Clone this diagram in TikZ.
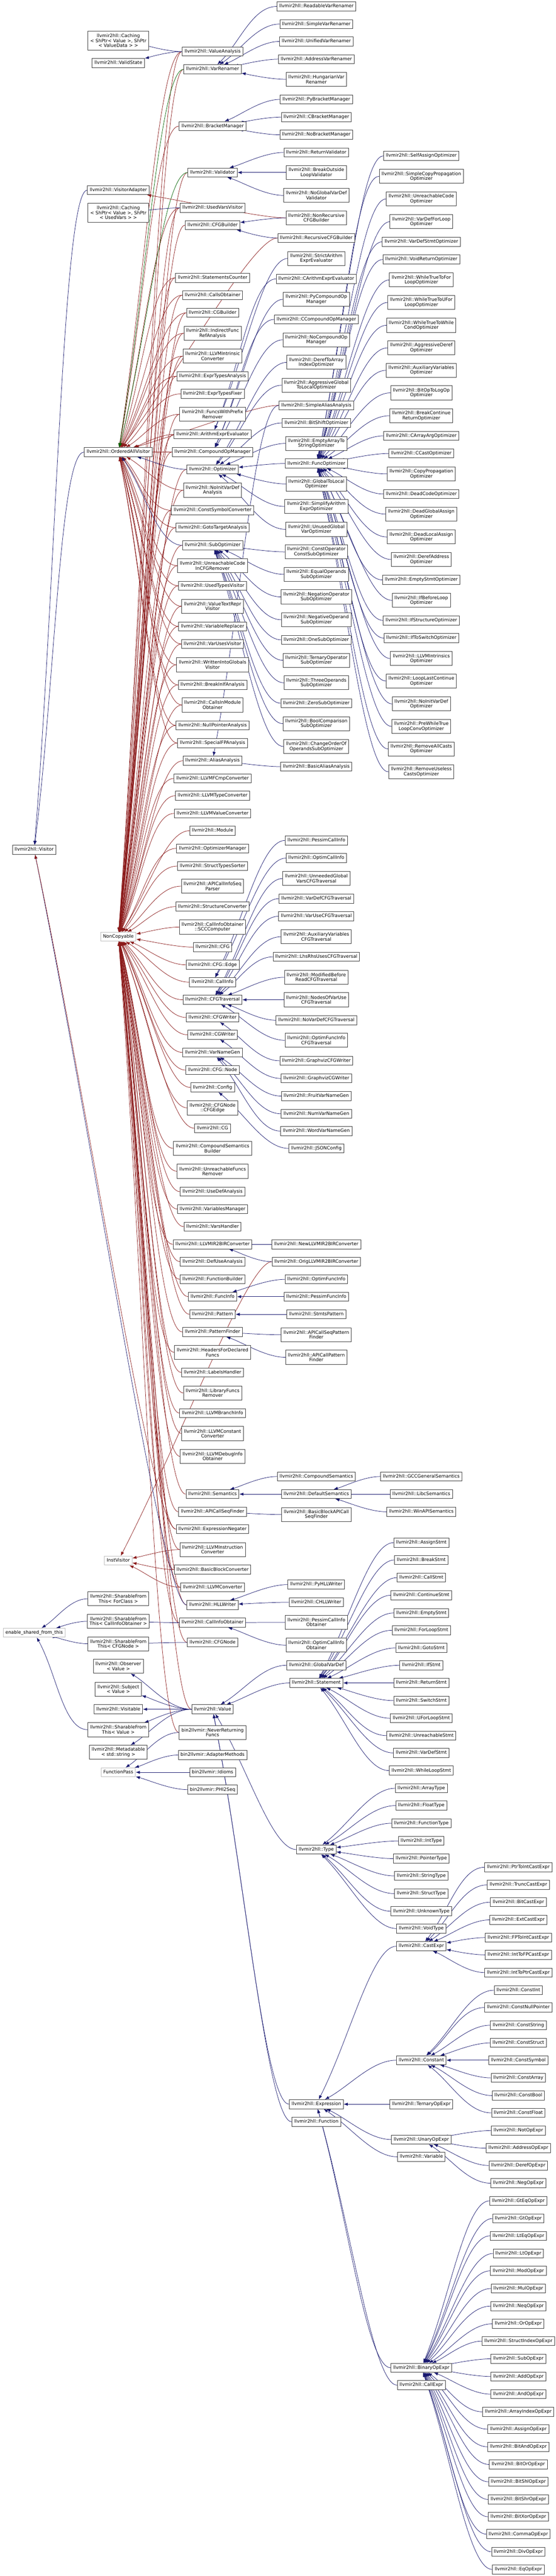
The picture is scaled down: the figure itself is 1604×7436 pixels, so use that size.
\documentclass[tikz,border=0pt]{standalone}
\usepackage{fontspec}
\setmainfont{DejaVu Sans}
\usetikzlibrary{arrows.meta,calc}
\definecolor{dblue}{HTML}{191970}
\definecolor{dred}{HTML}{8B1A1A}
\definecolor{dgreen}{HTML}{006400}
\definecolor{gbox}{HTML}{BFBFBF}
\definecolor{bbox}{HTML}{404040}
\pgfdeclarelayer{bg}
\pgfsetlayers{bg,main}
\newcommand\nodefont{\fontsize{13.3}{14}\selectfont}
\tikzset{
 cbox/.style={draw=bbox, line width=1.4pt, fill=white, font=\nodefont, inner xsep=6.5pt, inner ysep=0pt},
 c1/.style={cbox, minimum height=26pt, text height=10pt, text depth=3pt},
 c2/.style={cbox, align=center, minimum height=40.5pt},
 c3/.style={cbox, align=center, minimum height=55pt},
 ext/.style={c1, draw=gbox},
 pub/.style={draw=dblue, line width=1.1pt, -{Latex[length=12pt,width=9pt]}},
 priv/.style={pub, draw=dred},
 prot/.style={pub, draw=dgreen},
}
\newcommand\cone[3]{\node[c1] (#3) at (#1,#2) {llvmir2hll::#3};}
\newcommand\ctwo[5]{\node[c2] (#3) at (#1,#2) {llvmir2hll::#4\\#5};}
\newcommand\mkedge[3]{\draw[#1] let \p1=($(#2.west)-(#3)$), \n1={min(70pt,0.2*(abs(\x1)+abs(\y1)))} in (#2.west) .. controls +({0pt-\n1},0pt) and ($(#3)!0.42!(#2.west)$) .. (#3);}
\begin{document}
\begin{tikzpicture}[x=1pt,y=-1pt]
\useasboundingbox (0,0) rectangle (1604,7436);
% ---------- column 1 ----------
\node[c1] (Visitor) at (98.5,2453) {llvmir2hll::Visitor};
\node[ext] (ESFT) at (98.5,4713) {enable\_shared\_from\_this};
% ---------- column 2 ----------
\node[c3] (CachingVD) at (341.5,117) {llvmir2hll::Caching\\< ShPtr< Value >, ShPtr\\< ValueData > >};
\cone{341.5}{182}{ValidState}
\cone{341.5}{549}{VisitorAdapter}
\node[c3] (CachingUV) at (341.5,614) {llvmir2hll::Caching\\< ShPtr< Value >, ShPtr\\< UsedVars > >};
\node[c1] (OAV) at (341.5,1305) {llvmir2hll::OrderedAllVisitor};
\node[ext] (NonCopyable) at (341.5,2704) {NonCopyable};
\node[ext] (InstVisitor) at (341.5,4505) {InstVisitor};
\node[c2] (SFTForClass) at (341.5,4615) {llvmir2hll::SharableFrom\\This< ForClass >};
\node[c2] (SFTCIO) at (341.5,4680) {llvmir2hll::SharableFrom\\This< CallInfoObtainer >};
\node[c2] (SFTCFGNode) at (341.5,4745) {llvmir2hll::SharableFrom\\This< CFGNode >};
\node[c2] (Observer) at (341.5,4810) {llvmir2hll::Observer\\< Value >};
\node[c2] (Subject) at (341.5,4876) {llvmir2hll::Subject\\< Value >};
\cone{341.5}{4934}{Visitable}
\node[c2] (SFTValue) at (341.5,4993) {llvmir2hll::SharableFrom\\This< Value >};
\node[c2] (Metadatable) at (341.5,5058) {llvmir2hll::Metadatable\\< std::string >};
\node[ext] (FunctionPass) at (341.5,5116) {FunctionPass};
% ---------- column 3 ----------
\cone{613.5}{149}{ValueAnalysis}
\cone{613.5}{200}{VarRenamer}
\cone{613.5}{364}{BracketManager}
\cone{613.5}{498}{Validator}
\cone{613.5}{600}{UsedVarsVisitor}
\cone{613.5}{650}{CFGBuilder}
\cone{613.5}{802}{StatementsCounter}
\cone{613.5}{852}{CallsObtainer}
\cone{613.5}{903}{CGBuilder}
\ctwo{613.5}{962}{IndirectFuncRefAnalysis}{IndirectFunc}{RefAnalysis}
\ctwo{613.5}{1028}{LLVMIntrinsicConverter}{LLVMIntrinsic}{Converter}
\cone{613.5}{1086}{ExprTypesAnalysis}
\cone{613.5}{1137}{ExprTypesFixer}
\ctwo{613.5}{1196}{FuncsWithPrefixRemover}{FuncsWithPrefix}{Remover}
\cone{613.5}{1254}{ArithmExprEvaluator}
\cone{613.5}{1305}{CompoundOpManager}
\cone{613.5}{1355}{Optimizer}
\ctwo{613.5}{1415}{NoInitVarDefAnalysis}{NoInitVarDef}{Analysis}
\cone{613.5}{1473}{ConstSymbolConverter}
\cone{613.5}{1523}{GotoTargetAnalysis}
\cone{613.5}{1574}{SubOptimizer}
\ctwo{613.5}{1633}{UnreachableCodeInCFGRemover}{UnreachableCode}{InCFGRemover}
\cone{613.5}{1691}{UsedTypesVisitor}
\ctwo{613.5}{1750}{ValueTextReprVisitor}{ValueTextRepr}{Visitor}
\cone{613.5}{1808}{VariableReplacer}
\cone{613.5}{1859}{VarUsesVisitor}
\ctwo{613.5}{1919}{WrittenIntoGlobalsVisitor}{WrittenIntoGlobals}{Visitor}
\cone{613.5}{1977}{BreakInIfAnalysis}
\ctwo{613.5}{2035}{CallsInModuleObtainer}{CallsInModule}{Obtainer}
\cone{613.5}{2094}{NullPointerAnalysis}
\cone{613.5}{2145}{SpecialFPAnalysis}
\cone{613.5}{2196}{AliasAnalysis}
\cone{613.5}{2247}{LLVMFCmpConverter}
\cone{613.5}{2297}{LLVMTypeConverter}
\cone{613.5}{2348}{LLVMValueConverter}
\cone{613.5}{2398}{Module}
\cone{613.5}{2449}{OptimizerManager}
\cone{613.5}{2500}{StructTypesSorter}
\ctwo{613.5}{2558}{APICallInfoSeqParser}{APICallInfoSeq}{Parser}
\cone{613.5}{2617}{StructureConverter}
\node[c2] (SCCComputer) at (613.5,2676) {llvmir2hll::CallInfoObtainer\\::SCCComputer};
\cone{613.5}{2734}{CFG}
\node[c1] (CFGEdge) at (613.5,2785) {llvmir2hll::CFG::Edge};
\cone{613.5}{2835}{CallInfo}
\cone{613.5}{2886}{CFGTraversal}
\cone{613.5}{2937}{CFGWriter}
\cone{613.5}{2987}{CGWriter}
\cone{613.5}{3038}{VarNameGen}
\node[c1] (CFGNodeT) at (613.5,3089) {llvmir2hll::CFG::Node};
\cone{613.5}{3139}{Config}
\node[c2] (CFGNodeCFGEdge) at (613.5,3198) {llvmir2hll::CFGNode\\::CFGEdge};
\cone{613.5}{3257}{CG}
\ctwo{613.5}{3315}{CompoundSemanticsBuilder}{CompoundSemantics}{Builder}
\ctwo{613.5}{3381}{UnreachableFuncsRemover}{UnreachableFuncs}{Remover}
\cone{613.5}{3440}{UseDefAnalysis}
\cone{613.5}{3490}{VariablesManager}
\cone{613.5}{3541}{VarsHandler}
\cone{613.5}{3592}{LLVMIR2BIRConverter}
\cone{613.5}{3642}{DefUseAnalysis}
\cone{613.5}{3693}{FunctionBuilder}
\cone{613.5}{3743}{FuncInfo}
\cone{613.5}{3794}{Pattern}
\cone{613.5}{3845}{PatternFinder}
\ctwo{613.5}{3904}{HeadersForDeclaredFuncs}{HeadersForDeclared}{Funcs}
\cone{613.5}{3962}{LabelsHandler}
\ctwo{613.5}{4021}{LibraryFuncsRemover}{LibraryFuncs}{Remover}
\cone{613.5}{4079}{LLVMBranchInfo}
\ctwo{613.5}{4138}{LLVMConstantConverter}{LLVMConstant}{Converter}
\ctwo{613.5}{4204}{LLVMDebugInfoObtainer}{LLVMDebugInfo}{Obtainer}
\cone{613.5}{4313}{Semantics}
\cone{613.5}{4364}{APICallSeqFinder}
\cone{613.5}{4414}{ExpressionNegater}
\ctwo{613.5}{4473}{LLVMInstructionConverter}{LLVMInstruction}{Converter}
\cone{613.5}{4531}{BasicBlockConverter}
\cone{613.5}{4582}{LLVMConverter}
\cone{613.5}{4633}{HLLWriter}
\cone{613.5}{4684}{CallInfoObtainer}
\cone{613.5}{4741}{CFGNode}
\cone{613.5}{4934}{Value}
\node[c2] (NeverReturningFuncs) at (613.5,5001) {bin2llvmir::NeverReturning\\Funcs};
\node[c1] (AdapterMethods) at (613.5,5066) {bin2llvmir::AdapterMethods};
\node[c1] (Idioms) at (613.5,5116) {bin2llvmir::Idioms};
\node[c1] (PHI2Seq) at (613.5,5166) {bin2llvmir::PHI2Seq};
% ---------- column 4 ----------
\cone{913}{18.6}{ReadableVarRenamer}
\cone{913}{69.5}{SimpleVarRenamer}
\cone{913}{119.7}{UnifiedVarRenamer}
\cone{913}{170.8}{AddressVarRenamer}
\ctwo{913}{229}{HungarianVarRenamer}{HungarianVar}{Renamer}
\cone{913}{287}{PyBracketManager}
\cone{913}{338}{CBracketManager}
\cone{913}{389}{NoBracketManager}
\cone{913}{440}{ReturnValidator}
\ctwo{913}{498}{BreakOutsideLoopValidator}{BreakOutside}{LoopValidator}
\ctwo{913}{564}{NoGlobalVarDefValidator}{NoGlobalVarDef}{Validator}
\ctwo{913}{629}{NonRecursiveCFGBuilder}{NonRecursive}{CFGBuilder}
\cone{913}{687}{RecursiveCFGBuilder}
\ctwo{913}{746}{StrictArithmExprEvaluator}{StrictArithm}{ExprEvaluator}
\cone{913}{805}{CArithmExprEvaluator}
\ctwo{913}{864}{PyCompoundOpManager}{PyCompoundOp}{Manager}
\cone{913}{922}{CCompoundOpManager}
\ctwo{913}{981}{NoCompoundOpManager}{NoCompoundOp}{Manager}
\ctwo{913}{1046}{DerefToArrayIndexOptimizer}{DerefToArray}{IndexOptimizer}
\ctwo{913}{1112}{AggressiveGlobalToLocalOptimizer}{AggressiveGlobal}{ToLocalOptimizer}
\cone{913}{1170}{SimpleAliasAnalysis}
\cone{913}{1221}{BitShiftOptimizer}
\ctwo{913}{1280}{EmptyArrayToStringOptimizer}{EmptyArrayTo}{StringOptimizer}
\cone{913}{1338}{FuncOptimizer}
\ctwo{913}{1397}{GlobalToLocalOptimizer}{GlobalToLocal}{Optimizer}
\ctwo{913}{1462}{SimplifyArithmExprOptimizer}{SimplifyArithm}{ExprOptimizer}
\ctwo{913}{1528}{UnusedGlobalVarOptimizer}{UnusedGlobal}{VarOptimizer}
\ctwo{913}{1593}{ConstOperatorConstSubOptimizer}{ConstOperator}{ConstSubOptimizer}
\ctwo{913}{1658}{EqualOperandsSubOptimizer}{EqualOperands}{SubOptimizer}
\ctwo{913}{1723}{NegationOperatorSubOptimizer}{NegationOperator}{SubOptimizer}
\ctwo{913}{1789}{NegativeOperandSubOptimizer}{NegativeOperand}{SubOptimizer}
\cone{913}{1847}{OneSubOptimizer}
\ctwo{913}{1906}{TernaryOperatorSubOptimizer}{TernaryOperator}{SubOptimizer}
\ctwo{913}{1971}{ThreeOperandsSubOptimizer}{ThreeOperands}{SubOptimizer}
\cone{913}{2030}{ZeroSubOptimizer}
\ctwo{913}{2089}{BoolComparisonSubOptimizer}{BoolComparison}{SubOptimizer}
\ctwo{913}{2155}{ChangeOrderOfOperandsSubOptimizer}{ChangeOrderOf}{OperandsSubOptimizer}
\cone{913}{2213}{BasicAliasAnalysis}
\cone{913}{2426}{PessimCallInfo}
\cone{913}{2477}{OptimCallInfo}
\ctwo{913}{2536}{UnneededGlobalVarsCFGTraversal}{UnneededGlobal}{VarsCFGTraversal}
\cone{913}{2594}{VarDefCFGTraversal}
\cone{913}{2645}{VarUseCFGTraversal}
\ctwo{913}{2704}{AuxiliaryVariablesCFGTraversal}{AuxiliaryVariables}{CFGTraversal}
\cone{913}{2762}{LhsRhsUsesCFGTraversal}
\ctwo{913}{2821}{ModifiedBeforeReadCFGTraversal}{ModifiedBefore}{ReadCFGTraversal}
\ctwo{913}{2886}{NodesOfVarUseCFGTraversal}{NodesOfVarUse}{CFGTraversal}
\cone{913}{2945}{NoVarDefCFGTraversal}
\ctwo{913}{3003}{OptimFuncInfoCFGTraversal}{OptimFuncInfo}{CFGTraversal}
\cone{913}{3062}{GraphvizCFGWriter}
\cone{913}{3113}{GraphvizCGWriter}
\cone{913}{3164}{FruitVarNameGen}
\cone{913}{3215}{NumVarNameGen}
\cone{913}{3265}{WordVarNameGen}
\cone{913}{3315}{JSONConfig}
\cone{913}{3592}{NewLLVMIR2BIRConverter}
\cone{913}{3642}{OrigLLVMIR2BIRConverter}
\cone{913}{3693}{OptimFuncInfo}
\cone{913}{3743}{PessimFuncInfo}
\cone{913}{3794}{StmtsPattern}
\ctwo{913}{3853}{APICallSeqPatternFinder}{APICallSeqPattern}{Finder}
\ctwo{913}{3918}{APICallPatternFinder}{APICallPattern}{Finder}
\cone{913}{4262}{CompoundSemantics}
\cone{913}{4313}{DefaultSemantics}
\ctwo{913}{4372}{BasicBlockAPICallSeqFinder}{BasicBlockAPICall}{SeqFinder}
\cone{913}{4574}{PyHLLWriter}
\cone{913}{4625}{CHLLWriter}
\ctwo{913}{4683}{PessimCallInfoObtainer}{PessimCallInfo}{Obtainer}
\ctwo{913}{4749}{OptimCallInfoObtainer}{OptimCallInfo}{Obtainer}
\cone{913}{4807}{GlobalVarDef}
\cone{913}{4858}{Statement}
\cone{913}{5339}{Type}
\cone{913}{6074}{Expression}
\cone{913}{6125}{Function}
% ---------- column 5 ----------
\cone{1216}{450}{SelfAssignOptimizer}
\ctwo{1216}{509}{SimpleCopyPropagationOptimizer}{SimpleCopyPropagation}{Optimizer}
\ctwo{1216}{574}{UnreachableCodeOptimizer}{UnreachableCode}{Optimizer}
\ctwo{1216}{640}{VarDefForLoopOptimizer}{VarDefForLoop}{Optimizer}
\cone{1216}{698}{VarDefStmtOptimizer}
\cone{1216}{749}{VoidReturnOptimizer}
\ctwo{1216}{808}{WhileTrueToForLoopOptimizer}{WhileTrueToFor}{LoopOptimizer}
\ctwo{1216}{873}{WhileTrueToUForLoopOptimizer}{WhileTrueToUFor}{LoopOptimizer}
\ctwo{1216}{939}{WhileTrueToWhileCondOptimizer}{WhileTrueToWhile}{CondOptimizer}
\ctwo{1216}{1004}{AggressiveDerefOptimizer}{AggressiveDeref}{Optimizer}
\ctwo{1216}{1069}{AuxiliaryVariablesOptimizer}{AuxiliaryVariables}{Optimizer}
\ctwo{1216}{1134}{BitOpToLogOpOptimizer}{BitOpToLogOp}{Optimizer}
\ctwo{1216}{1200}{BreakContinueReturnOptimizer}{BreakContinue}{ReturnOptimizer}
\cone{1216}{1258}{CArrayArgOptimizer}
\cone{1216}{1309}{CCastOptimizer}
\ctwo{1216}{1368}{CopyPropagationOptimizer}{CopyPropagation}{Optimizer}
\cone{1216}{1426}{DeadCodeOptimizer}
\ctwo{1216}{1484}{DeadGlobalAssignOptimizer}{DeadGlobalAssign}{Optimizer}
\ctwo{1216}{1550}{DeadLocalAssignOptimizer}{DeadLocalAssign}{Optimizer}
\ctwo{1216}{1615}{DerefAddressOptimizer}{DerefAddress}{Optimizer}
\cone{1216}{1674}{EmptyStmtOptimizer}
\ctwo{1216}{1733}{IfBeforeLoopOptimizer}{IfBeforeLoop}{Optimizer}
\cone{1216}{1791}{IfStructureOptimizer}
\cone{1216}{1842}{IfToSwitchOptimizer}
\ctwo{1216}{1901}{LLVMIntrinsicsOptimizer}{LLVMIntrinsics}{Optimizer}
\ctwo{1216}{1966}{LoopLastContinueOptimizer}{LoopLastContinue}{Optimizer}
\ctwo{1216}{2032}{NoInitVarDefOptimizer}{NoInitVarDef}{Optimizer}
\ctwo{1216}{2097}{PreWhileTrueLoopConvOptimizer}{PreWhileTrue}{LoopConvOptimizer}
\ctwo{1216}{2162}{RemoveAllCastsOptimizer}{RemoveAllCasts}{Optimizer}
\ctwo{1216}{2228}{RemoveUselessCastsOptimizer}{RemoveUseless}{CastsOptimizer}
\cone{1216}{4262}{GCCGeneralSemantics}
\cone{1216}{4313}{LibcSemantics}
\cone{1216}{4364}{WinAPISemantics}
\cone{1216}{4453}{AssignStmt}
\cone{1216}{4503}{BreakStmt}
\cone{1216}{4554}{CallStmt}
\cone{1216}{4605}{ContinueStmt}
\cone{1216}{4656}{EmptyStmt}
\cone{1216}{4706}{ForLoopStmt}
\cone{1216}{4757}{GotoStmt}
\cone{1216}{4807}{IfStmt}
\cone{1216}{4858}{ReturnStmt}
\cone{1216}{4909}{SwitchStmt}
\cone{1216}{4960}{UForLoopStmt}
\cone{1216}{5010}{UnreachableStmt}
\cone{1216}{5060}{VarDefStmt}
\cone{1216}{5111}{WhileLoopStmt}
\cone{1216}{5162}{ArrayType}
\cone{1216}{5212}{FloatType}
\cone{1216}{5263}{FunctionType}
\cone{1216}{5314}{IntType}
\cone{1216}{5365}{PointerType}
\cone{1216}{5415}{StringType}
\cone{1216}{5466}{StructType}
\cone{1216}{5517}{UnknownType}
\cone{1216}{5567}{VoidType}
\cone{1216}{5618}{CastExpr}
\cone{1216}{5947}{Constant}
\cone{1216}{6074}{TernaryOpExpr}
\cone{1216}{6176}{UnaryOpExpr}
\cone{1216}{6226}{Variable}
\cone{1216}{6835}{BinaryOpExpr}
\cone{1216}{6885}{CallExpr}
% ---------- column 6 ----------
\cone{1496}{5390}{PtrToIntCastExpr}
\cone{1496}{5441}{TruncCastExpr}
\cone{1496}{5491}{BitCastExpr}
\cone{1496}{5542}{ExtCastExpr}
\cone{1496}{5593}{FPToIntCastExpr}
\cone{1496}{5643}{IntToFPCastExpr}
\cone{1496}{5694}{IntToPtrCastExpr}
\cone{1496}{5745}{ConstInt}
\cone{1496}{5795}{ConstNullPointer}
\cone{1496}{5846}{ConstString}
\cone{1496}{5897}{ConstStruct}
\cone{1496}{5947}{ConstSymbol}
\cone{1496}{5998}{ConstArray}
\cone{1496}{6049}{ConstBool}
\cone{1496}{6099}{ConstFloat}
\cone{1496}{6150}{NotOpExpr}
\cone{1496}{6201}{AddressOpExpr}
\cone{1496}{6251}{DerefOpExpr}
\cone{1496}{6302}{NegOpExpr}
\cone{1496}{6353}{GtEqOpExpr}
\cone{1496}{6404}{GtOpExpr}
\cone{1496}{6454}{LtEqOpExpr}
\cone{1496}{6505}{LtOpExpr}
\cone{1496}{6555}{ModOpExpr}
\cone{1496}{6606}{MulOpExpr}
\cone{1496}{6657}{NeqOpExpr}
\cone{1496}{6708}{OrOpExpr}
\cone{1496}{6758}{StructIndexOpExpr}
\cone{1496}{6809}{SubOpExpr}
\cone{1496}{6860}{AddOpExpr}
\cone{1496}{6911}{AndOpExpr}
\cone{1496}{6962}{ArrayIndexOpExpr}
\cone{1496}{7012}{AssignOpExpr}
\cone{1496}{7063}{BitAndOpExpr}
\cone{1496}{7114}{BitOrOpExpr}
\cone{1496}{7164}{BitShlOpExpr}
\cone{1496}{7215}{BitShrOpExpr}
\cone{1496}{7265}{BitXorOpExpr}
\cone{1496}{7315}{CommaOpExpr}
\cone{1496}{7366}{DivOpExpr}
\cone{1496}{7417}{EqOpExpr}
% ---------- connectors ----------
\begin{pgfonlayer}{bg}
\fill[white] (0,0) rectangle (1604,7436);
\foreach \c in {ValueAnalysis,VarRenamer,Validator,UsedVarsVisitor,CFGBuilder,StatementsCounter,CallsObtainer,CGBuilder,IndirectFuncRefAnalysis,LLVMIntrinsicConverter,ExprTypesAnalysis,FuncsWithPrefixRemover,ArithmExprEvaluator,CompoundOpManager,Optimizer,NoInitVarDefAnalysis,ConstSymbolConverter,GotoTargetAnalysis,SubOptimizer,UnreachableCodeInCFGRemover,UsedTypesVisitor,ValueTextReprVisitor,VariableReplacer,VarUsesVisitor,WrittenIntoGlobalsVisitor,BreakInIfAnalysis,CallsInModuleObtainer,NullPointerAnalysis,SpecialFPAnalysis,AliasAnalysis,LLVMFCmpConverter,LLVMTypeConverter,LLVMValueConverter,Module,OptimizerManager,StructTypesSorter,APICallInfoSeqParser,StructureConverter,SCCComputer,CFG,CFGEdge,CallInfo,CFGTraversal,CFGWriter,CGWriter,VarNameGen,CFGNodeT,Config,CFGNodeCFGEdge,CG,CompoundSemanticsBuilder,UnreachableFuncsRemover,UseDefAnalysis,VariablesManager,VarsHandler,LLVMIR2BIRConverter,DefUseAnalysis,FunctionBuilder,FuncInfo,Pattern,PatternFinder,HeadersForDeclaredFuncs,LabelsHandler,LibraryFuncsRemover,LLVMBranchInfo,LLVMConstantConverter,LLVMDebugInfoObtainer,Semantics,APICallSeqFinder,ExpressionNegater,LLVMInstructionConverter,BasicBlockConverter,LLVMConverter,HLLWriter,CallInfoObtainer,CFGNode,Value,NeverReturningFuncs}{\mkedge{priv}{\c}{NonCopyable}}
\foreach \c in {ValueAnalysis,BracketManager,UsedVarsVisitor,RecursiveCFGBuilder,StatementsCounter,CallsObtainer,CGBuilder,IndirectFuncRefAnalysis,LLVMIntrinsicConverter,ExprTypesAnalysis,ExprTypesFixer,FuncsWithPrefixRemover,ArithmExprEvaluator,CompoundOpManager,NoInitVarDefAnalysis,ConstSymbolConverter,GotoTargetAnalysis,UnreachableCodeInCFGRemover,UsedTypesVisitor,ValueTextReprVisitor,VariableReplacer,VarUsesVisitor,WrittenIntoGlobalsVisitor,BreakInIfAnalysis,CallsInModuleObtainer,NullPointerAnalysis,SpecialFPAnalysis,SimpleAliasAnalysis}{\mkedge{priv}{\c}{OAV}}
\foreach \c in {VarRenamer,Validator}{\mkedge{prot}{\c}{OAV}}
\foreach \c in {Optimizer,SubOptimizer}{\mkedge{pub}{\c}{OAV}}
\foreach \c in {LLVMInstructionConverter,BasicBlockConverter,LLVMConverter,OrigLLVMIR2BIRConverter}{\mkedge{priv}{\c}{InstVisitor}}
\foreach \c in {VisitorAdapter,OAV,HLLWriter}{\mkedge{pub}{\c}{Visitor}}
\mkedge{priv}{ExpressionNegater}{Visitor}
\mkedge{priv}{NonRecursiveCFGBuilder}{VisitorAdapter}
\mkedge{pub}{ValueAnalysis}{CachingVD}
\mkedge{pub}{ValueAnalysis}{ValidState}
\mkedge{pub}{UsedVarsVisitor}{CachingUV}
\foreach \c in {ReadableVarRenamer,SimpleVarRenamer,UnifiedVarRenamer,AddressVarRenamer,HungarianVarRenamer}{\mkedge{pub}{\c}{VarRenamer}}
\foreach \c in {PyBracketManager,CBracketManager,NoBracketManager}{\mkedge{pub}{\c}{BracketManager}}
\foreach \c in {ReturnValidator,BreakOutsideLoopValidator,NoGlobalVarDefValidator}{\mkedge{pub}{\c}{Validator}}
\foreach \c in {NonRecursiveCFGBuilder,RecursiveCFGBuilder}{\mkedge{pub}{\c}{CFGBuilder}}
\foreach \c in {StrictArithmExprEvaluator,CArithmExprEvaluator}{\mkedge{pub}{\c}{ArithmExprEvaluator}}
\foreach \c in {PyCompoundOpManager,CCompoundOpManager,NoCompoundOpManager}{\mkedge{pub}{\c}{CompoundOpManager}}
\foreach \c in {DerefToArrayIndexOptimizer,AggressiveGlobalToLocalOptimizer,BitShiftOptimizer,EmptyArrayToStringOptimizer,FuncOptimizer,GlobalToLocalOptimizer,SimplifyArithmExprOptimizer,UnusedGlobalVarOptimizer}{\mkedge{pub}{\c}{Optimizer}}
\foreach \c in {SimpleAliasAnalysis,BasicAliasAnalysis}{\mkedge{pub}{\c}{AliasAnalysis}}
\foreach \c in {ConstOperatorConstSubOptimizer,EqualOperandsSubOptimizer,NegationOperatorSubOptimizer,NegativeOperandSubOptimizer,OneSubOptimizer,TernaryOperatorSubOptimizer,ThreeOperandsSubOptimizer,ZeroSubOptimizer,BoolComparisonSubOptimizer,ChangeOrderOfOperandsSubOptimizer}{\mkedge{pub}{\c}{SubOptimizer}}
\foreach \c in {SelfAssignOptimizer,SimpleCopyPropagationOptimizer,UnreachableCodeOptimizer,VarDefForLoopOptimizer,VarDefStmtOptimizer,VoidReturnOptimizer,WhileTrueToForLoopOptimizer,WhileTrueToUForLoopOptimizer,WhileTrueToWhileCondOptimizer,AggressiveDerefOptimizer,AuxiliaryVariablesOptimizer,BitOpToLogOpOptimizer,BreakContinueReturnOptimizer,CArrayArgOptimizer,CCastOptimizer,CopyPropagationOptimizer,DeadCodeOptimizer,DeadGlobalAssignOptimizer,DeadLocalAssignOptimizer,DerefAddressOptimizer,EmptyStmtOptimizer,IfBeforeLoopOptimizer,IfStructureOptimizer,IfToSwitchOptimizer,LLVMIntrinsicsOptimizer,LoopLastContinueOptimizer,NoInitVarDefOptimizer,PreWhileTrueLoopConvOptimizer,RemoveAllCastsOptimizer,RemoveUselessCastsOptimizer}{\mkedge{pub}{\c}{FuncOptimizer}}
\foreach \c in {PessimCallInfo,OptimCallInfo}{\mkedge{pub}{\c}{CallInfo}}
\foreach \c in {UnneededGlobalVarsCFGTraversal,VarDefCFGTraversal,VarUseCFGTraversal,AuxiliaryVariablesCFGTraversal,LhsRhsUsesCFGTraversal,ModifiedBeforeReadCFGTraversal,NodesOfVarUseCFGTraversal,NoVarDefCFGTraversal,OptimFuncInfoCFGTraversal}{\mkedge{pub}{\c}{CFGTraversal}}
\mkedge{pub}{GraphvizCFGWriter}{CFGWriter}
\mkedge{pub}{GraphvizCGWriter}{CGWriter}
\foreach \c in {FruitVarNameGen,NumVarNameGen,WordVarNameGen}{\mkedge{pub}{\c}{VarNameGen}}
\mkedge{pub}{JSONConfig}{Config}
\foreach \c in {NewLLVMIR2BIRConverter,OrigLLVMIR2BIRConverter}{\mkedge{pub}{\c}{LLVMIR2BIRConverter}}
\foreach \c in {OptimFuncInfo,PessimFuncInfo}{\mkedge{pub}{\c}{FuncInfo}}
\mkedge{pub}{StmtsPattern}{Pattern}
\foreach \c in {APICallSeqPatternFinder,APICallPatternFinder}{\mkedge{pub}{\c}{PatternFinder}}
\foreach \c in {CompoundSemantics,DefaultSemantics}{\mkedge{pub}{\c}{Semantics}}
\foreach \c in {GCCGeneralSemantics,LibcSemantics,WinAPISemantics}{\mkedge{pub}{\c}{DefaultSemantics}}
\mkedge{pub}{BasicBlockAPICallSeqFinder}{APICallSeqFinder}
\foreach \c in {PyHLLWriter,CHLLWriter}{\mkedge{pub}{\c}{HLLWriter}}
\foreach \c in {PessimCallInfoObtainer,OptimCallInfoObtainer}{\mkedge{pub}{\c}{CallInfoObtainer}}
\mkedge{pub}{CallInfoObtainer}{SFTCIO}
\mkedge{pub}{CFGNode}{SFTCFGNode}
\foreach \c in {SFTForClass,SFTCIO,SFTCFGNode,SFTValue}{\mkedge{pub}{\c}{ESFT}}
\foreach \b in {Observer,Subject,Visitable,SFTValue,Metadatable}{\mkedge{pub}{Value}{\b}}
\foreach \c in {GlobalVarDef,Statement,Type,Expression,Function}{\mkedge{pub}{\c}{Value}}
\foreach \c in {AssignStmt,BreakStmt,CallStmt,ContinueStmt,EmptyStmt,ForLoopStmt,GotoStmt,IfStmt,ReturnStmt,SwitchStmt,UForLoopStmt,UnreachableStmt,VarDefStmt,WhileLoopStmt}{\mkedge{pub}{\c}{Statement}}
\foreach \c in {ArrayType,FloatType,FunctionType,IntType,PointerType,StringType,StructType,UnknownType,VoidType}{\mkedge{pub}{\c}{Type}}
\foreach \c in {CastExpr,Constant,TernaryOpExpr,UnaryOpExpr,Variable,BinaryOpExpr,CallExpr}{\mkedge{pub}{\c}{Expression}}
\foreach \c in {PtrToIntCastExpr,TruncCastExpr,BitCastExpr,ExtCastExpr,FPToIntCastExpr,IntToFPCastExpr,IntToPtrCastExpr}{\mkedge{pub}{\c}{CastExpr}}
\foreach \c in {ConstInt,ConstNullPointer,ConstString,ConstStruct,ConstSymbol,ConstArray,ConstBool,ConstFloat}{\mkedge{pub}{\c}{Constant}}
\foreach \c in {NotOpExpr,AddressOpExpr,DerefOpExpr,NegOpExpr}{\mkedge{pub}{\c}{UnaryOpExpr}}
\foreach \c in {GtEqOpExpr,GtOpExpr,LtEqOpExpr,LtOpExpr,ModOpExpr,MulOpExpr,NeqOpExpr,OrOpExpr,StructIndexOpExpr,SubOpExpr,AddOpExpr,AndOpExpr,ArrayIndexOpExpr,AssignOpExpr,BitAndOpExpr,BitOrOpExpr,BitShlOpExpr,BitShrOpExpr,BitXorOpExpr,CommaOpExpr,DivOpExpr,EqOpExpr}{\mkedge{pub}{\c}{BinaryOpExpr}}
\foreach \c in {NeverReturningFuncs,AdapterMethods,Idioms,PHI2Seq}{\mkedge{pub}{\c}{FunctionPass}}
\end{pgfonlayer}
\end{tikzpicture}
\end{document}
